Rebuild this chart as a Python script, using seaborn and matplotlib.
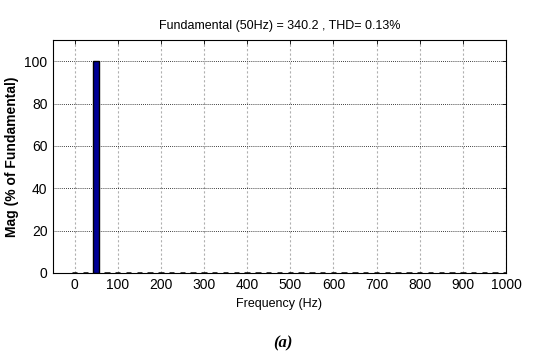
import matplotlib
matplotlib.use("Agg")
import matplotlib.pyplot as plt
import seaborn as sns
import numpy as np
import pandas as pd

# Data
freqs = [0, 25, 50, 75, 100, 125, 150, 175, 200, 225, 250, 275, 300, 325, 350, 375,
         400, 425, 450, 475, 500, 525, 550, 575, 600, 625, 650, 675, 700, 725, 750,
         775, 800, 825, 850, 875, 900, 925, 950, 975, 1000]
mags = [0.05, 0.03, 100.0, 0.03, 0.04, 0.02, 0.06, 0.02, 0.03, 0.02, 0.05, 0.02, 0.03,
        0.02, 0.04, 0.02, 0.02, 0.02, 0.03, 0.02, 0.02, 0.02, 0.03, 0.02, 0.02, 0.02,
        0.02, 0.02, 0.02, 0.02, 0.02, 0.02, 0.02, 0.02, 0.02, 0.02, 0.02, 0.02, 0.02,
        0.02, 0.02]
xticks = [0, 100, 200, 300, 400, 500, 600, 700, 800, 900, 1000]
yticks = [0, 20, 40, 60, 80, 100]
title = "Fundamental (50Hz) = 340.2 , THD= 0.13%"

df = pd.DataFrame({"freq": freqs, "mag": mags})

sns.set_style("white")
plt.rcParams['font.family'] = ['Liberation Sans', 'DejaVu Sans']
plt.rcParams['text.color'] = 'black'
plt.rcParams['axes.labelcolor'] = 'black'
plt.rcParams['xtick.color'] = 'black'
plt.rcParams['ytick.color'] = 'black'

fig = plt.figure(figsize=(5.56, 3.61), dpi=100)
ax = fig.add_axes([0.0953, 0.244, 0.8147, 0.645])

sns.barplot(data=df, x="freq", y="mag", native_scale=True, width=0.5,
            color="#000096", saturation=1, edgecolor="black", linewidth=1.0, ax=ax)
for p in ax.patches:
    if p.get_height() < 1:
        p.set_linewidth(1.8)

ax.set_xlim(-50, 1000)
ax.set_ylim(0, 110)
ax.set_xticks(xticks)
ax.set_yticks(yticks)
ax.set_xticklabels([str(t) for t in xticks], fontsize=10)
ax.set_yticklabels([str(t) for t in yticks], fontsize=10)

ax.grid(False)
for t in xticks:
    ax.axvline(t, color="#b0b0b0", linestyle=(0, (2, 2)), linewidth=0.8, zorder=0)
for t in yticks[1:]:
    ax.axhline(t, color="black", linestyle=(0, (1, 1.5)), linewidth=0.6, zorder=0)

for s in ax.spines.values():
    s.set_color("black")
    s.set_linewidth(0.8)
ax.tick_params(direction="in", length=3, top=True, right=True, width=0.6, pad=4)

ax.set_title(title, fontsize=9, pad=8)
ax.set_xlabel("Frequency (Hz)", fontsize=9, labelpad=4)
ax.set_ylabel("Mag (% of Fundamental)", fontsize=10, fontweight="bold", labelpad=4)

fig.text(0.509, 0.05, "(a)", fontsize=12, fontweight="bold", fontstyle="italic",
         family=["Liberation Serif", "DejaVu Serif"], ha="center", va="center")

fig.savefig("out.png", dpi=100)
